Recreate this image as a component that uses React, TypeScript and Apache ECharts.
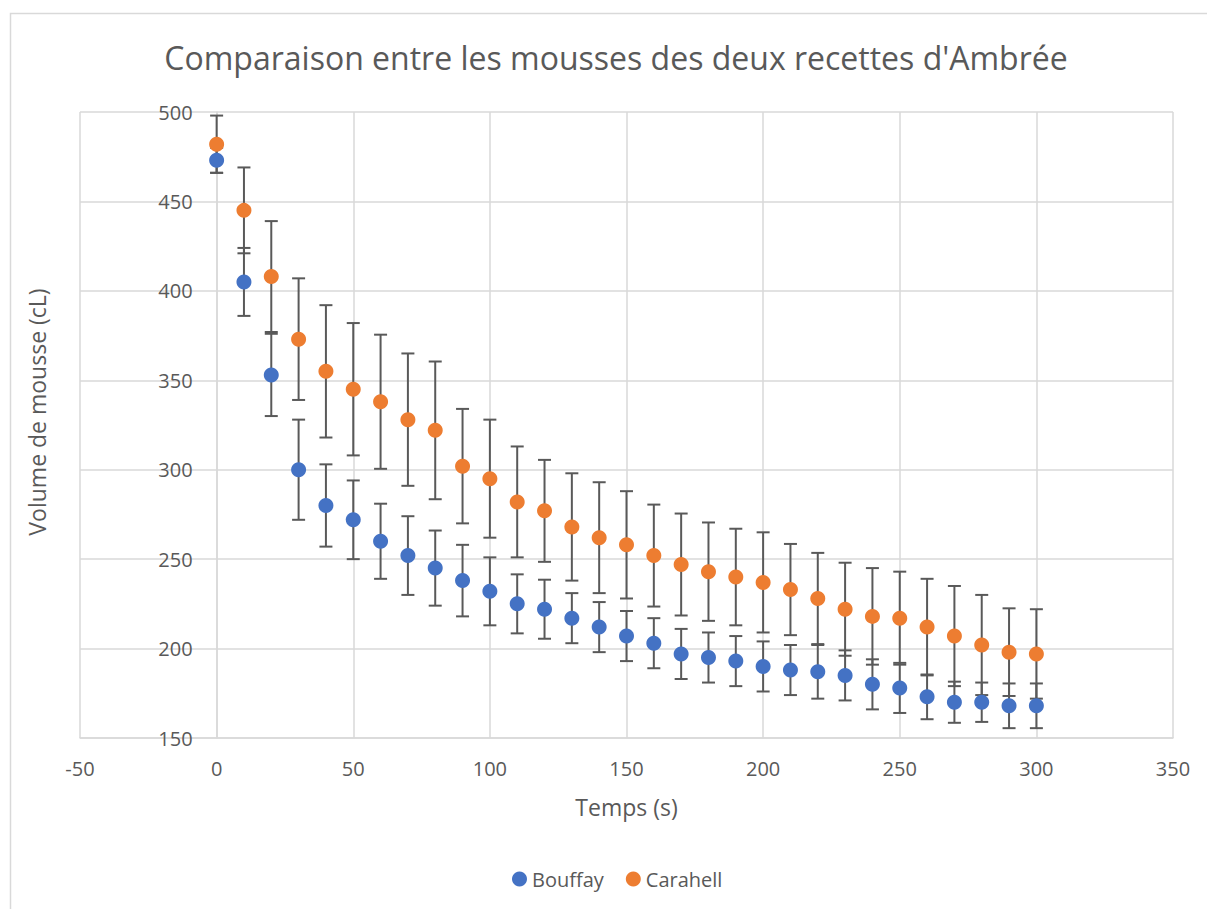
import React, { useEffect, useRef } from "react";
import * as echarts from "echarts";

const times = [0, 10, 20, 30, 40, 50, 60, 70, 80, 90, 100, 110, 120, 130, 140, 150, 160, 170, 180, 190, 200, 210, 220, 230, 240, 250, 260, 270, 280, 290, 300];
const bouffay = [473, 405, 353, 300, 280, 272, 260, 252, 245, 238, 232, 225, 222, 217, 212, 207, 203, 197, 195, 193, 190, 188, 187, 185, 180, 178, 173, 170, 170, 168, 168];
const bouffayErr = [7, 19, 23, 28, 23, 22, 21, 22, 21, 20, 19, 16.5, 16.5, 14, 14, 14, 14, 14, 14, 14, 14, 14, 15, 14, 14, 14, 12.5, 11.5, 11, 12.5, 12.5];
const carahell = [482, 445, 408, 373, 355, 345, 338, 328, 322, 302, 295, 282, 277, 268, 262, 258, 252, 247, 243, 240, 237, 233, 228, 222, 218, 217, 212, 207, 202, 198, 197];
const carahellErr = [16, 24, 31, 34, 37, 37, 37.5, 37, 38.5, 32, 33, 31, 28.5, 30, 31, 30, 28.5, 28.5, 27.5, 27, 28, 25.5, 25.5, 26, 27, 26, 27, 28, 28, 24.5, 25];

const title = "Comparaison entre les mousses des deux recettes d'Ambrée";
const xName = "Temps (s)";
const yName = "Volume de mousse (cL)";

const TEXT = "#595959";
const GRID = "#d9d9d9";
const FONT = "'Open Sans', sans-serif";

function errData(vals: number[], errs: number[]) {
  return times.map((t, i) => [t, vals[i] - errs[i], vals[i] + errs[i]]);
}

function renderErr(params: any, api: any) {
  const x = api.value(0);
  const lo = api.coord([x, api.value(1)]);
  const hi = api.coord([x, api.value(2)]);
  const hw = 6.5;
  const style = { stroke: "#595959", lineWidth: 2, fill: null };
  return {
    type: "group",
    children: [
      { type: "line", shape: { x1: hi[0], y1: hi[1], x2: lo[0], y2: lo[1] }, style },
      { type: "line", shape: { x1: hi[0] - hw, y1: hi[1], x2: hi[0] + hw, y2: hi[1] }, style },
      { type: "line", shape: { x1: lo[0] - hw, y1: lo[1], x2: lo[0] + hw, y2: lo[1] }, style },
    ],
  };
}

export default function App() {
  const ref = useRef<HTMLDivElement>(null);
  useEffect(() => {
    if (!ref.current) return;
    const chart = echarts.init(ref.current, null, { renderer: "svg" });
    const gridLeft = 80;
    const gridRight = 34;
    const plotW = 1207 - gridLeft - gridRight;
    // distance of x = 0 from the left edge of the plot (x range -50..350)
    const zeroOffset = (plotW * 50) / 400;
    chart.setOption({
      animation: false,
      backgroundColor: "#ffffff",
      textStyle: { fontFamily: FONT, color: TEXT },
      graphic: [
        {
          type: "rect",
          shape: { x: 10.5, y: 13.5, width: 1230, height: 930 },
          style: { fill: "none", stroke: GRID, lineWidth: 1.5 },
          silent: true,
        },
        {
          type: "text",
          x: 616,
          y: 57,
          style: {
            text: title,
            fill: TEXT,
            font: `32px ${FONT}`,
            textAlign: "center",
            textVerticalAlign: "middle",
          },
        },
      ],
      grid: {
        left: gridLeft,
        right: gridRight,
        top: 112,
        bottom: 171,
        containLabel: false,
        outerBoundsMode: "none",
      },
      legend: {
        data: [
          { name: "Bouffay", icon: "circle" },
          { name: "Carahell", icon: "circle" },
        ],
        left: 507,
        top: 864,
        itemWidth: 15,
        itemHeight: 15,
        itemGap: 22,
        textStyle: { color: TEXT, fontSize: 20, fontFamily: FONT },
      },
      xAxis: {
        type: "value",
        min: -50,
        max: 350,
        interval: 50,
        name: xName,
        nameLocation: "middle",
        nameGap: 57,
        nameTextStyle: { color: TEXT, fontSize: 23, fontFamily: FONT },
        axisLine: { onZero: false, lineStyle: { color: GRID, width: 1.5 } },
        axisTick: { show: false },
        axisLabel: { color: TEXT, fontSize: 20, margin: 20, fontFamily: FONT },
        splitLine: { show: true, lineStyle: { color: GRID, width: 1.5 } },
      },
      yAxis: {
        type: "value",
        min: 150,
        max: 500,
        interval: 50,
        offset: -zeroOffset,
        name: yName,
        nameLocation: "middle",
        nameGap: 168,
        nameTextStyle: { color: TEXT, fontSize: 23, fontFamily: FONT, padding: [0, 0, 0, 26] },
        axisLine: { show: true, onZero: false, lineStyle: { color: GRID, width: 1.5 } },
        axisTick: { show: false },
        axisLabel: { color: TEXT, fontSize: 20, margin: 24, fontFamily: FONT },
        splitLine: { show: true, lineStyle: { color: GRID, width: 1.5 } },
      },
      series: [
        {
          name: "BouffayErr",
          type: "custom",
          renderItem: renderErr,
          data: errData(bouffay, bouffayErr),
          encode: { x: 0, y: [1, 2] },
          z: 1,
          silent: true,
        },
        {
          name: "CarahellErr",
          type: "custom",
          renderItem: renderErr,
          data: errData(carahell, carahellErr),
          encode: { x: 0, y: [1, 2] },
          z: 1,
          silent: true,
        },
        {
          name: "Bouffay",
          type: "scatter",
          symbol: "circle",
          symbolSize: 15,
          itemStyle: { color: "#4472C4", opacity: 1 },
          data: times.map((t, i) => [t, bouffay[i]]),
          z: 3,
        },
        {
          name: "Carahell",
          type: "scatter",
          symbol: "circle",
          symbolSize: 15,
          itemStyle: { color: "#ED7D31", opacity: 1 },
          data: times.map((t, i) => [t, carahell[i]]),
          z: 3,
        },
      ],
    });
    return () => chart.dispose();
  }, []);
  return (
    <div
      ref={ref}
      style={{ position: "absolute", left: 0, top: 0, width: 1207, height: 909 }}
    />
  );
}
